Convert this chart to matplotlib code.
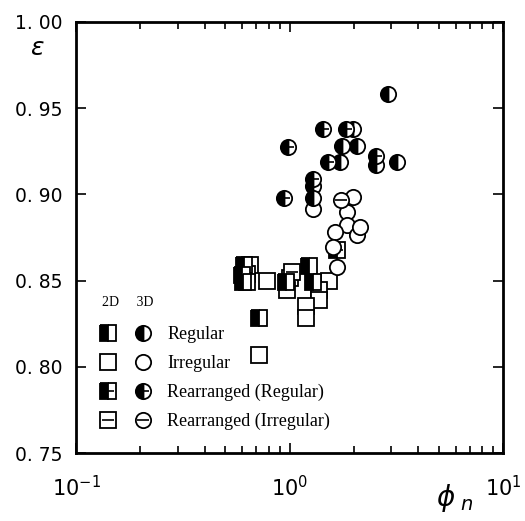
import matplotlib
matplotlib.use("Agg")
import matplotlib.pyplot as plt
from matplotlib.lines import Line2D
from matplotlib.legend_handler import HandlerTuple
from matplotlib.ticker import LogLocator, FixedLocator, NullFormatter

# porosity eps vs. shape factor phi_n
reg3d_x = [2.89, 1.98, 1.76, 2.07, 1.72, 2.54, 3.19, 1.29, 1.29]
reg3d_y = [0.958, 0.938, 0.928, 0.928, 0.919, 0.917, 0.919, 0.905, 0.898]
rreg3d_x = [0.98, 1.44, 1.84, 1.51, 2.54, 1.29, 0.94]
rreg3d_y = [0.9275, 0.938, 0.938, 0.919, 0.922, 0.909, 0.898]
irr3d_x = [1.29, 1.98, 1.86, 1.86, 2.07, 1.63, 2.14, 1.60, 1.67]
irr3d_y = [0.8915, 0.8985, 0.890, 0.882, 0.8765, 0.878, 0.881, 0.8695, 0.858]
rirr3d_x = [1.74]
rirr3d_y = [0.897]

reg2d_x = [0.61, 0.60, 0.605, 1.23, 1.29, 0.96, 0.72]
reg2d_y = [0.859, 0.853, 0.849, 0.8585, 0.849, 0.849, 0.828]
rreg2d_x = [1.67]
rreg2d_y = [0.868]
irr2d_x = [0.65, 0.63, 0.63, 0.78, 1.00, 0.97, 1.53, 1.37, 1.37, 1.19, 1.19, 0.72]
irr2d_y = [0.859, 0.854, 0.849, 0.850, 0.8515, 0.8445, 0.850, 0.8445, 0.839, 0.835, 0.828, 0.807]
rirr2d_x = [1.03]
rirr2d_y = [0.855]

yticks = [0.75, 0.80, 0.85, 0.90, 0.95, 1.00]
ytick_labels = ["0. 75", "0. 80", "0. 85", "0. 90", "0. 95", "1. 00"]
xticks = [0.1, 1, 10]
xtick_labels = [r"$10^{-1}$", r"$10^{0}$", r"$10^{1}$"]

serif = ["Liberation Serif", "DejaVu Serif"]

fig = plt.figure(figsize=(5.25, 5.21), dpi=100)
ax = fig.add_axes([0.145, 0.1305, 0.813, 0.8275])

ms = 11


def style(marker, fill):
    st = dict(marker=marker, markersize=ms, markeredgecolor="black",
              markeredgewidth=1.3, linestyle="none")
    if fill == "left":
        st.update(fillstyle="left", markerfacecolor="black", markerfacecoloralt="white")
    else:
        st.update(markerfacecolor="white")
    return st


def draw(x, y, marker, fill, bar=False):
    ax.plot(x, y, **style(marker, fill))
    if bar:
        ax.plot(x, y, marker="_", markersize=ms * 0.85, markeredgewidth=1.2,
                color="black", linestyle="none")


draw(irr2d_x, irr2d_y, "s", "none")
draw(rirr2d_x, rirr2d_y, "s", "none", bar=True)
draw(reg2d_x, reg2d_y, "s", "left")
draw(rreg2d_x, rreg2d_y, "s", "left", bar=True)
draw(irr3d_x, irr3d_y, "o", "none")
draw(rirr3d_x, rirr3d_y, "o", "none", bar=True)
draw(reg3d_x, reg3d_y, "o", "left")
draw(rreg3d_x, rreg3d_y, "o", "left", bar=True)

ax.set_xscale("log")
ax.set_xlim(0.1, 10)
ax.set_ylim(0.75, 1.00)
ax.set_yticks(yticks)
ax.set_yticklabels(ytick_labels, fontsize=13.5)
ax.xaxis.set_major_locator(FixedLocator(xticks))
ax.set_xticklabels(xtick_labels, fontsize=15)
ax.xaxis.set_minor_locator(LogLocator(base=10, subs=range(2, 10)))
ax.xaxis.set_minor_formatter(NullFormatter())
ax.tick_params(which="both", direction="in", top=True, right=True, width=1.2)
ax.tick_params(which="major", length=7)
ax.tick_params(which="minor", length=5)
ax.tick_params(axis="x", which="major", pad=16)
ax.tick_params(axis="y", which="major", pad=10)
for s in ax.spines.values():
    s.set_linewidth(2)

ax.text(-0.09, 0.94, r"$\varepsilon$", transform=ax.transAxes, fontsize=18,
        ha="center", va="center")
ax.text(0.888, -0.105, r"$\phi_{\ n}$", transform=ax.transAxes, fontsize=20,
        ha="center", va="center")


def handle(marker, fill, bar=False):
    h = [Line2D([], [], **style(marker, fill))]
    if bar:
        h.append(Line2D([], [], marker="_", markersize=ms * 0.85, markeredgewidth=1.2,
                        color="black", linestyle="none"))
    return tuple(h)


labels = ["Regular", "Irregular", "Rearranged (Regular)", "Rearranged (Irregular)"]
h2d = [handle("s", "left"), handle("s", "none"), handle("s", "left", True), handle("s", "none", True)]
h3d = [handle("o", "left"), handle("o", "none"), handle("o", "left", True), handle("o", "none", True)]
pairs = [h2d[i] + (None,) + h3d[i] for i in range(4)]


class PairHandler(HandlerTuple):
    # square at the left end of the handle box, circle at the right end
    def create_artists(self, legend, orig_handle, xdescent, ydescent, width, height, fontsize, trans):
        split = orig_handle.index(None)
        out = []
        for part, xo in ((orig_handle[:split], 0.0), (orig_handle[split + 1:], width * 0.75)):
            for h in part:
                hd = legend.get_legend_handler(legend.get_legend_handler_map(), h)
                out.extend(hd.create_artists(legend, h, xdescent - xo, ydescent,
                                             width * 0.25, height, fontsize, trans))
        return out


leg = ax.legend(pairs, labels, handler_map={tuple: PairHandler()},
                loc="lower left", bbox_to_anchor=(0.022, 0.015), frameon=False,
                handlelength=2.58, handletextpad=1.06, labelspacing=0.66,
                prop={"family": serif, "size": 13}, title="2D     3D",
                title_fontproperties={"family": serif, "size": 10}, alignment="left")
leg._legend_box.sep = 12

fig.savefig("out.png", dpi=100)
